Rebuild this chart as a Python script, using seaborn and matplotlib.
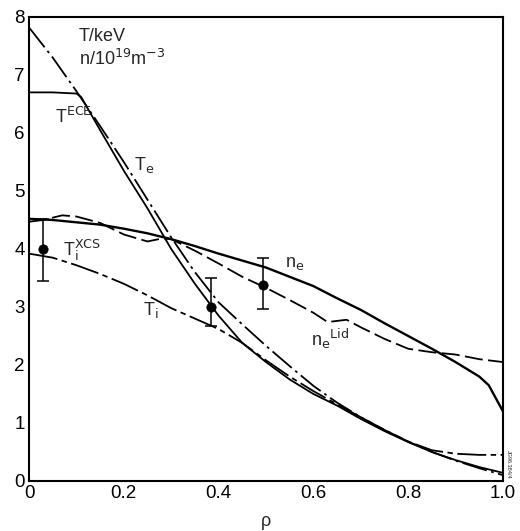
import numpy as np
import pandas as pd
import matplotlib
matplotlib.use("Agg")
import matplotlib.pyplot as plt
import seaborn as sns

# ---- data ----
te_x = [0, 0.05, 0.1, 0.15, 0.2, 0.25, 0.3, 0.35, 0.4, 0.45, 0.5, 0.55, 0.6, 0.65, 0.7, 0.75, 0.8, 0.85, 0.9, 0.95, 1.0]
te_y = [7.82, 7.3, 6.72, 6.12, 5.5, 4.85, 4.2, 3.6, 3.08, 2.7, 2.33, 1.98, 1.64, 1.35, 1.1, 0.88, 0.68, 0.5, 0.35, 0.22, 0.1]

tece_x = [0, 0.05, 0.1, 0.11, 0.15, 0.2, 0.25, 0.3, 0.35, 0.4, 0.45, 0.5, 0.55, 0.6, 0.65, 0.7, 0.75, 0.8, 0.85, 0.9, 0.95, 1.0]
tece_y = [6.7, 6.7, 6.68, 6.62, 6.05, 5.35, 4.7, 4.0, 3.4, 2.85, 2.38, 2.05, 1.75, 1.5, 1.3, 1.07, 0.86, 0.67, 0.5, 0.36, 0.24, 0.14]

ti_x = [0, 0.05, 0.1, 0.15, 0.2, 0.25, 0.3, 0.35, 0.4, 0.45, 0.5, 0.55, 0.6, 0.65, 0.7, 0.75, 0.8, 0.85, 0.9, 0.95, 1.0]
ti_y = [3.92, 3.85, 3.72, 3.57, 3.4, 3.2, 2.98, 2.8, 2.62, 2.38, 2.08, 1.8, 1.55, 1.32, 1.1, 0.88, 0.68, 0.53, 0.47, 0.45, 0.45]

ne_x = [0, 0.05, 0.1, 0.15, 0.2, 0.25, 0.3, 0.35, 0.4, 0.45, 0.5, 0.55, 0.6, 0.65, 0.7, 0.75, 0.8, 0.85, 0.9, 0.95, 0.97, 1.0]
ne_y = [4.52, 4.5, 4.46, 4.42, 4.35, 4.27, 4.17, 4.05, 3.92, 3.8, 3.68, 3.52, 3.36, 3.15, 2.95, 2.72, 2.5, 2.28, 2.05, 1.8, 1.65, 1.2]

nelid_x = [0, 0.03, 0.07, 0.1, 0.15, 0.2, 0.25, 0.28, 0.3, 0.35, 0.4, 0.45, 0.5, 0.55, 0.6, 0.63, 0.67, 0.7, 0.75, 0.8, 0.85, 0.9, 0.95, 1.0]
nelid_y = [4.47, 4.5, 4.58, 4.56, 4.45, 4.25, 4.13, 4.18, 4.17, 3.97, 3.75, 3.52, 3.33, 3.12, 2.9, 2.74, 2.78, 2.65, 2.45, 2.28, 2.22, 2.18, 2.1, 2.05]

pts_x = [0.03, 0.385, 0.493]
pts_y = [4.0, 3.0, 3.38]
pts_lo = [3.45, 2.68, 2.97]
pts_hi = [4.52, 3.5, 3.85]

xticks = [0, 0.2, 0.4, 0.6, 0.8, 1.0]
xticklabels = ["0", "0.2", "0.4", "0.6", "0.8", "1.0"]
yticks = [0, 1, 2, 3, 4, 5, 6, 7, 8]

sns.set_style("white")
plt.rcParams['font.family'] = ['Liberation Sans', 'DejaVu Sans']

fig = plt.figure(figsize=(5.2, 5.31), dpi=100)
ax = fig.add_axes([0.0558, 0.0942, 0.9115, 0.8738])

lw = 1.3
sns.lineplot(x=te_x, y=te_y, ax=ax, color='black', lw=lw, linestyle=(0, (14, 2.5, 1.5, 2.5)))
sns.lineplot(x=tece_x, y=tece_y, ax=ax, color='black', lw=lw, linestyle='-')
sns.lineplot(x=ti_x, y=ti_y, ax=ax, color='black', lw=lw, linestyle=(0, (16, 2.5, 3, 2.5)))
sns.lineplot(x=ne_x, y=ne_y, ax=ax, color='black', lw=1.7, linestyle='-')
sns.lineplot(x=nelid_x, y=nelid_y, ax=ax, color='black', lw=lw, linestyle=(0, (10, 3)))

yerr = [np.array(pts_y) - np.array(pts_lo), np.array(pts_hi) - np.array(pts_y)]
ax.errorbar(pts_x, pts_y, yerr=yerr, fmt='none', ecolor='black', elinewidth=1.1, capsize=4, capthick=1.1)
sns.scatterplot(x=pts_x, y=pts_y, ax=ax, color='black', s=45, edgecolor='black', zorder=5)

ax.set_xlim(0, 1.0)
ax.set_ylim(0, 8)
ax.set_xticks(xticks)
ax.set_xticklabels(xticklabels)
ax.set_yticks(yticks)
ax.tick_params(direction='in', length=6, width=1.2, labelsize=13.5, pad=3, colors='black')
for s in ax.spines.values():
    s.set_visible(True)
    s.set_color('black')
    s.set_linewidth(1.5)

ax.set_xlabel("ρ", fontsize=13)
ax.xaxis.set_label_coords(0.5, -0.07)
ax.set_ylabel("")

fs = 13
ax.text(0.105, 7.67, "T/keV", fontsize=fs, va='center', ha='left')
ax.text(0.105, 7.28, r"n/10$^{19}$m$^{-3}$", fontsize=fs, va='center', ha='left')
ax.text(0.055, 6.28, r"T$^{\mathrm{ECE}}$", fontsize=fs, va='center', ha='left')
ax.text(0.222, 5.45, r"T$_{\mathrm{e}}$", fontsize=fs, va='center', ha='left')
ax.text(0.072, 3.97, r"T$_{\mathrm{i}}^{\mathrm{XCS}}$", fontsize=fs, va='center', ha='left')
ax.text(0.24, 2.95, r"T$_{\mathrm{i}}$", fontsize=fs, va='center', ha='left')
ax.text(0.54, 3.75, r"n$_{\mathrm{e}}$", fontsize=fs, va='center', ha='left')
ax.text(0.595, 2.45, r"n$_{\mathrm{e}}$$^{\mathrm{Lid}}$", fontsize=fs, va='center', ha='left')
fig.text(0.978, 0.125, "JG96.384/4", fontsize=4, rotation=270, va='center', ha='center')

fig.savefig("out.png", dpi=100)
